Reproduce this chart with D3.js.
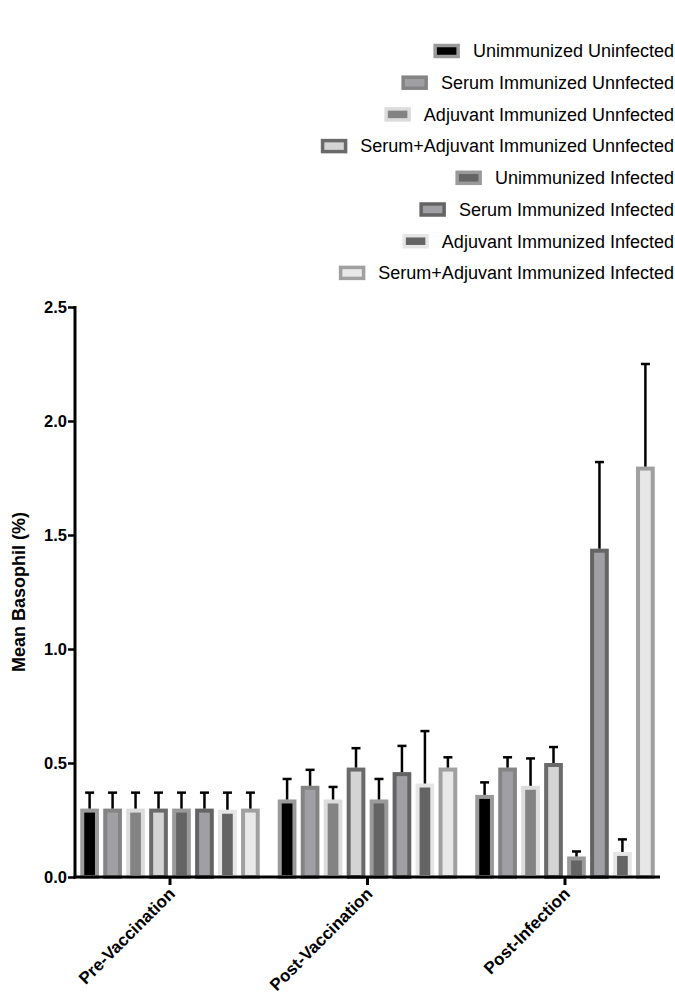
<!DOCTYPE html>
<html>
<head>
<meta charset="utf-8">
<script src="https://cdn.jsdelivr.net/npm/d3@7"></script>
<style>
  html, body { margin: 0; padding: 0; background: #fff; }
  svg { display: block; font-family: "Liberation Sans", Arial, Helvetica, sans-serif; }
</style>
</head>
<body>
<svg id="chart" width="675" height="997"></svg>
<script>
// ---- Data ----
const groups = ["Pre-Vaccination", "Post-Vaccination", "Post-Infection"];
const seriesNames = [
  "Unimmunized Uninfected",
  "Serum Immunized Unnfected",
  "Adjuvant Immunized Unnfected",
  "Serum+Adjuvant Immunized Unnfected",
  "Unimmunized Infected",
  "Serum Immunized Infected",
  "Adjuvant Immunized Infected",
  "Serum+Adjuvant Immunized Infected"
];
const meanPreVaccination  = [0.30, 0.30, 0.30, 0.30, 0.30, 0.30, 0.295, 0.30];
const errPreVaccination   = [0.07, 0.07, 0.07, 0.07, 0.07, 0.07, 0.075, 0.07];
const meanPostVaccination = [0.34, 0.40, 0.34, 0.48, 0.34, 0.46, 0.41, 0.48];
const errPostVaccination  = [0.09, 0.07, 0.055, 0.085, 0.09, 0.115, 0.23, 0.045];
const meanPostInfection   = [0.36, 0.48, 0.40, 0.50, 0.09, 1.44, 0.11, 1.80];
const errPostInfection    = [0.055, 0.045, 0.12, 0.07, 0.022, 0.38, 0.055, 0.45];
const yTicks = [0, 0.5, 1.0, 1.5, 2.0, 2.5];
const yLabel = "Mean Basophil (%)";

// styles per series: fill / stroke
const seriesFill   = ["#000000", "#a0a0a4", "#838383", "#d4d4d4", "#646464", "#a0a0a4", "#646464", "#e8e8e8"];
const seriesStroke = ["#9a9a9a", "#848484", "#dcdcdc", "#6a6a6a", "#9a9a9a", "#646464", "#e6e6e6", "#a0a0a0"];

const means = [meanPreVaccination, meanPostVaccination, meanPostInfection];
const errs  = [errPreVaccination, errPostVaccination, errPostInfection];
const rows = [];
groups.forEach((g, gi) => {
  seriesNames.forEach((s, si) => {
    rows.push({ group: g, series: s, si, mean: means[gi][si], err: errs[gi][si] });
  });
});

// ---- Layout ----
const svg = d3.select("#chart");
const xLeft = 75, xRight = 660, yBottom = 877, yTop = 307;

const x0 = d3.scaleBand().domain(groups).range([xLeft, xRight])
  .paddingInner(0.0835).paddingOuter(0.0228);
const x1 = d3.scaleBand().domain(seriesNames).range([0, x0.bandwidth()])
  .paddingInner(0.36).paddingOuter(0.12);
const y = d3.scaleLinear().domain([0, 2.5]).range([yBottom, yTop]);

// Bars
const barG = svg.append("g");
barG.selectAll("rect").data(rows).join("rect")
  .attr("x", d => x0(d.group) + x1(d.series))
  .attr("y", d => y(d.mean) + 2)
  .attr("width", x1.bandwidth())
  .attr("height", d => yBottom - y(d.mean) - 2)
  .attr("fill", d => seriesFill[d.si])
  .attr("stroke", d => seriesStroke[d.si])
  .attr("stroke-width", 4);

// Error bars (upper only)
const errG = svg.append("g").attr("stroke", "#000").attr("stroke-width", 2.5);
rows.forEach(d => {
  const cx = x0(d.group) + x1(d.series) + x1.bandwidth() / 2;
  errG.append("line").attr("x1", cx).attr("x2", cx)
    .attr("y1", y(d.mean)).attr("y2", y(d.mean + d.err));
  errG.append("line").attr("x1", cx - 4.5).attr("x2", cx + 4.5)
    .attr("y1", y(d.mean + d.err)).attr("y2", y(d.mean + d.err));
});

// Y axis
const yAxis = d3.axisLeft(y).tickValues(yTicks).tickFormat(d3.format(".1f"))
  .tickSize(7).tickSizeOuter(0).tickPadding(1);
const yg = svg.append("g").attr("transform", `translate(${xLeft},0)`).call(yAxis);
yg.select(".domain").attr("stroke", "#000").attr("stroke-width", 3)
  .attr("d", `M0,${yTop - 1}V${yBottom + 1.5}`);
yg.selectAll(".tick line").attr("stroke", "#000").attr("stroke-width", 2.5);
yg.selectAll(".tick text").attr("fill", "#000")
  .style("font-size", "16.5px").style("font-weight", "bold")
  .style("font-family", "'Liberation Sans', Arial, sans-serif");

// X axis
const xAxis = d3.axisBottom(x0).tickSize(8).tickSizeOuter(0).tickPadding(0);
const xg = svg.append("g").attr("transform", `translate(0,${yBottom})`).call(xAxis);
xg.select(".domain").attr("stroke", "#000").attr("stroke-width", 3)
  .attr("d", `M${xLeft - 1.5},0H${xRight}`);
xg.selectAll(".tick line").attr("stroke", "#000").attr("stroke-width", 3);
xg.selectAll(".tick text").attr("fill", "#000")
  .style("font-size", "17px").style("font-weight", "bold")
  .style("font-family", "'Liberation Sans', Arial, sans-serif")
  .attr("text-anchor", "end")
  .attr("x", 0).attr("y", 0).attr("dy", "0")
  .attr("transform", "translate(6,18) rotate(-45)");

// Y label
svg.append("text")
  .attr("transform", `translate(25,${(yTop + yBottom) / 2}) rotate(-90)`)
  .attr("text-anchor", "middle")
  .style("font-size", "18px").style("font-weight", "bold")
  .text(yLabel);

// Legend
const legG = svg.append("g");
const legRight = 674, legTop = 51, legStep = 31.7;
seriesNames.forEach((s, i) => {
  const cy = legTop + i * legStep;
  const t = legG.append("text")
    .attr("x", legRight).attr("y", cy).attr("dy", "0.35em")
    .attr("text-anchor", "end")
    .style("font-size", "18px")
    .text(s);
  const w = t.node().getComputedTextLength();
  const sx = legRight - w - 13 - 26.5;
  legG.append("rect")
    .attr("x", sx + 1.75).attr("y", cy - 7.25 + 1.75)
    .attr("width", 23).attr("height", 11)
    .attr("fill", seriesFill[i])
    .attr("stroke", seriesStroke[i])
    .attr("stroke-width", 3.5);
});
</script>
</body>
</html>
